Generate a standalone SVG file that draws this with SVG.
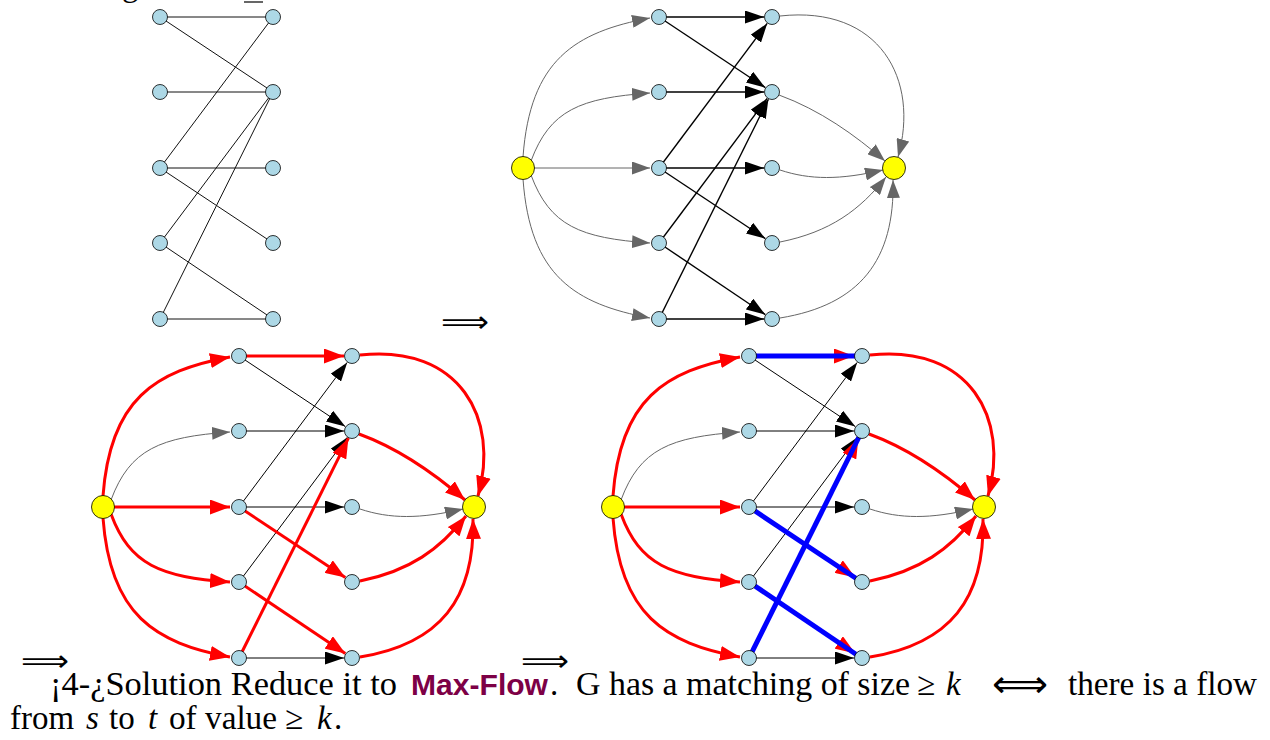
<svg xmlns="http://www.w3.org/2000/svg" width="1270" height="740" viewBox="0 0 1270 740">
<style>
.n{fill:#add8e6;stroke:#000;stroke-width:0.8}
.y{fill:#ffff00;stroke:#000;stroke-width:0.8}
.e{stroke:#111;stroke-width:1;fill:none}
.eb{stroke:#000;stroke-width:1.4;fill:none;marker-end:url(#aB)}
.ek{stroke:#000;stroke-width:1;fill:none;marker-end:url(#aB)}
.eg{stroke:#666;stroke-width:1;fill:none;marker-end:url(#aG)}
.er{stroke:#f00;stroke-width:3;fill:none;marker-end:url(#aR)}
.bl{stroke:#00f;stroke-width:5;fill:none}
.tx{font-family:"Liberation Serif","Times New Roman",serif;font-size:33px;fill:#000}
.it{font-style:italic}
.ar{font-family:"DejaVu Sans",sans-serif;font-size:30px;fill:#000}
.ar2{font-family:"DejaVu Sans",sans-serif;font-size:38px;fill:#000}
.mf{font-family:"Liberation Sans",Arial,sans-serif;font-weight:bold;font-size:30px;fill:#7d0046}
</style>
<defs>
<marker id="aB" viewBox="0 0 19 13" markerUnits="userSpaceOnUse" markerWidth="19" markerHeight="13" refX="19" refY="6.5" orient="auto"><path d="M0,0 L19,6.5 L0,13 z" fill="#000"/></marker>
<marker id="aG" viewBox="0 0 18 13" markerUnits="userSpaceOnUse" markerWidth="18" markerHeight="13" refX="18" refY="6.5" orient="auto"><path d="M0,0 L18,6.5 L0,13 z" fill="#666"/></marker>
<marker id="aR" viewBox="0 0 20 15" markerUnits="userSpaceOnUse" markerWidth="20" markerHeight="15" refX="20" refY="7.5" orient="auto"><path d="M0,0 L20,7.5 L0,15 z" fill="#f00"/></marker>
</defs>
<rect width="1270" height="740" fill="#fff"/>

<text class="tx" x="122" y="-4">g</text>
<line x1="244" y1="2" x2="263" y2="2" stroke="#000" stroke-width="1.2"/>

<!-- Top-left bipartite graph -->
<g id="tl-connectors">
<line class="e" x1="160" y1="17" x2="273" y2="17"/>
<line class="e" x1="160" y1="17" x2="273" y2="92"/>
<line class="e" x1="160" y1="92" x2="273" y2="92"/>
<line class="e" x1="160" y1="168" x2="273" y2="17"/>
<line class="e" x1="160" y1="168" x2="273" y2="168"/>
<line class="e" x1="160" y1="168" x2="273" y2="243"/>
<line class="e" x1="160" y1="243" x2="273" y2="92"/>
<line class="e" x1="160" y1="243" x2="273" y2="319"/>
<line class="e" x1="160" y1="319" x2="273" y2="92"/>
<line class="e" x1="160" y1="319" x2="273" y2="319"/>
</g>
<g id="tl-L1"><circle class="n" cx="160" cy="17" r="7.5"/></g>
<g id="tl-L2"><circle class="n" cx="160" cy="92" r="7.5"/></g>
<g id="tl-L3"><circle class="n" cx="160" cy="168" r="7.5"/></g>
<g id="tl-L4"><circle class="n" cx="160" cy="243" r="7.5"/></g>
<g id="tl-L5"><circle class="n" cx="160" cy="319" r="7.5"/></g>
<g id="tl-R1"><circle class="n" cx="273" cy="17" r="7.5"/></g>
<g id="tl-R2"><circle class="n" cx="273" cy="92" r="7.5"/></g>
<g id="tl-R3"><circle class="n" cx="273" cy="168" r="7.5"/></g>
<g id="tl-R4"><circle class="n" cx="273" cy="243" r="7.5"/></g>
<g id="tl-R5"><circle class="n" cx="273" cy="319" r="7.5"/></g>

<!-- Top-right flow network -->
<g id="tr-connectors">
<path class="eg" d="M523,157 C530,60 575,32 650,18"/>
<path class="eg" d="M531,161 C550,110 580,98 650,93"/>
<path class="eg" d="M534,168 L650,168"/>
<path class="eg" d="M531,175 C550,226 580,238 650,243"/>
<path class="eg" d="M523,179 C530,276 575,304 650,318"/>
<path class="eg" d="M780,16 C880,5 920,80 898,157"/>
<path class="eg" d="M779,95 C820,110 855,135 885,161"/>
<path class="eg" d="M780,170 C810,180 840,180 883,170"/>
<path class="eg" d="M780,242 C830,232 860,210 886,177"/>
<path class="eg" d="M780,318 C860,305 895,260 893,180"/>
<path class="eb" d="M659,17 L764,17"/>
<path class="eb" d="M659,17 L765.3,87.6"/>
<path class="eb" d="M659,92 L764,92"/>
<path class="eb" d="M659,168 L767.2,23.4"/>
<path class="eb" d="M659,168 L764,168"/>
<path class="eb" d="M659,168 L765.3,238.6"/>
<path class="eb" d="M659,243 L767.2,98.4"/>
<path class="eb" d="M659,243 L765.3,314.6"/>
<path class="eb" d="M659,319 L768.4,99.2"/>
<path class="eb" d="M659,319 L764,319"/>
</g>
<g id="tr-s"><circle class="y" cx="523" cy="168" r="11.5"/></g>
<g id="tr-t"><circle class="y" cx="894" cy="168" r="11.5"/></g>
<g id="tr-L1"><circle class="n" cx="659" cy="17" r="7.5"/></g>
<g id="tr-L2"><circle class="n" cx="659" cy="92" r="7.5"/></g>
<g id="tr-L3"><circle class="n" cx="659" cy="168" r="7.5"/></g>
<g id="tr-L4"><circle class="n" cx="659" cy="243" r="7.5"/></g>
<g id="tr-L5"><circle class="n" cx="659" cy="319" r="7.5"/></g>
<g id="tr-R1"><circle class="n" cx="772" cy="17" r="7.5"/></g>
<g id="tr-R2"><circle class="n" cx="772" cy="92" r="7.5"/></g>
<g id="tr-R3"><circle class="n" cx="772" cy="168" r="7.5"/></g>
<g id="tr-R4"><circle class="n" cx="772" cy="243" r="7.5"/></g>
<g id="tr-R5"><circle class="n" cx="772" cy="319" r="7.5"/></g>

<!-- Bottom-left: flow -->
<g transform="translate(-420,339)">
<g id="bl-connectors">
<path class="eg" d="M531,161 C550,110 580,98 650,93"/>
<path class="eg" d="M780,170 C810,180 840,180 883,170"/>
<path class="ek" d="M659,17 L765.3,87.6"/>
<path class="ek" d="M659,92 L764,92"/>
<path class="ek" d="M659,168 L767.2,23.4"/>
<path class="ek" d="M659,168 L764,168"/>
<path class="ek" d="M659,243 L767.2,98.4"/>
<path class="ek" d="M659,319 L764,319"/>
<path class="er" d="M523,157 C530,60 575,32 650,18"/>
<path class="er" d="M534,168 L650,168"/>
<path class="er" d="M531,175 C550,226 580,238 650,243"/>
<path class="er" d="M523,179 C530,276 575,304 650,318"/>
<path class="er" d="M659,17 L764,17"/>
<path class="er" d="M659,319 L768.4,99.2"/>
<path class="er" d="M659,168 L765.3,238.6"/>
<path class="er" d="M659,243 L765.3,314.6"/>
<path class="er" d="M780,16 C880,5 920,80 898,157"/>
<path class="er" d="M779,95 C820,110 855,135 885,161"/>
<path class="er" d="M780,242 C830,232 860,210 886,177"/>
<path class="er" d="M780,318 C860,305 895,260 893,180"/>
</g>
<g id="bl-s"><circle class="y" cx="523" cy="168" r="11.5"/></g>
<g id="bl-t"><circle class="y" cx="894" cy="168" r="11.5"/></g>
<g id="bl-L1"><circle class="n" cx="659" cy="17" r="7.5"/></g>
<g id="bl-L2"><circle class="n" cx="659" cy="92" r="7.5"/></g>
<g id="bl-L3"><circle class="n" cx="659" cy="168" r="7.5"/></g>
<g id="bl-L4"><circle class="n" cx="659" cy="243" r="7.5"/></g>
<g id="bl-L5"><circle class="n" cx="659" cy="319" r="7.5"/></g>
<g id="bl-R1"><circle class="n" cx="772" cy="17" r="7.5"/></g>
<g id="bl-R2"><circle class="n" cx="772" cy="92" r="7.5"/></g>
<g id="bl-R3"><circle class="n" cx="772" cy="168" r="7.5"/></g>
<g id="bl-R4"><circle class="n" cx="772" cy="243" r="7.5"/></g>
<g id="bl-R5"><circle class="n" cx="772" cy="319" r="7.5"/></g>
</g>

<!-- Bottom-right: flow with matching -->
<g transform="translate(90,339)">
<g id="br-connectors">
<path class="eg" d="M531,161 C550,110 580,98 650,93"/>
<path class="eg" d="M780,170 C810,180 840,180 883,170"/>
<path class="ek" d="M659,17 L765.3,87.6"/>
<path class="ek" d="M659,92 L764,92"/>
<path class="ek" d="M659,168 L767.2,23.4"/>
<path class="ek" d="M659,168 L764,168"/>
<path class="ek" d="M659,243 L767.2,98.4"/>
<path class="ek" d="M659,319 L764,319"/>
<path class="er" d="M523,157 C530,60 575,32 650,18"/>
<path class="er" d="M534,168 L650,168"/>
<path class="er" d="M531,175 C550,226 580,238 650,243"/>
<path class="er" d="M523,179 C530,276 575,304 650,318"/>
<path class="er" d="M659,17 L764,17"/>
<path class="er" d="M659,319 L768.4,99.2"/>
<path class="er" d="M659,168 L765.3,238.6"/>
<path class="er" d="M659,243 L765.3,314.6"/>
<path class="er" d="M780,16 C880,5 920,80 898,157"/>
<path class="er" d="M779,95 C820,110 855,135 885,161"/>
<path class="er" d="M780,242 C830,232 860,210 886,177"/>
<path class="er" d="M780,318 C860,305 895,260 893,180"/>
<line class="bl" x1="659" y1="17" x2="770" y2="17"/>
<line class="bl" x1="659" y1="319" x2="771" y2="94"/>
<line class="bl" x1="659" y1="168" x2="770" y2="242"/>
<line class="bl" x1="659" y1="243" x2="770" y2="318"/>
</g>
<g id="br-s"><circle class="y" cx="523" cy="168" r="11.5"/></g>
<g id="br-t"><circle class="y" cx="894" cy="168" r="11.5"/></g>
<g id="br-L1"><circle class="n" cx="659" cy="17" r="7.5"/></g>
<g id="br-L2"><circle class="n" cx="659" cy="92" r="7.5"/></g>
<g id="br-L3"><circle class="n" cx="659" cy="168" r="7.5"/></g>
<g id="br-L4"><circle class="n" cx="659" cy="243" r="7.5"/></g>
<g id="br-L5"><circle class="n" cx="659" cy="319" r="7.5"/></g>
<g id="br-R1"><circle class="n" cx="772" cy="17" r="7.5"/></g>
<g id="br-R2"><circle class="n" cx="772" cy="92" r="7.5"/></g>
<g id="br-R3"><circle class="n" cx="772" cy="168" r="7.5"/></g>
<g id="br-R4"><circle class="n" cx="772" cy="243" r="7.5"/></g>
<g id="br-R5"><circle class="n" cx="772" cy="319" r="7.5"/></g>
</g>

<!-- implication arrows -->
<text class="ar" x="441" y="332" textLength="48" lengthAdjust="spacingAndGlyphs">⟹</text>
<text class="ar" x="21" y="671" textLength="48" lengthAdjust="spacingAndGlyphs">⟹</text>
<text class="ar" x="521" y="671" textLength="48" lengthAdjust="spacingAndGlyphs">⟹</text>

<!-- caption -->
<text class="tx" x="50" y="695" textLength="347" lengthAdjust="spacingAndGlyphs">¡4-¿Solution Reduce it to</text>
<text class="mf" x="411" y="695" textLength="137" lengthAdjust="spacingAndGlyphs">Max-Flow</text>
<text class="tx" x="550" y="695">.</text>
<text class="tx" x="576" y="695" textLength="334" lengthAdjust="spacingAndGlyphs">G has a matching of size</text>
<text class="tx" x="917" y="695">≥</text>
<text class="tx it" x="946" y="695">k</text>
<text class="ar2" x="992" y="697" textLength="56" lengthAdjust="spacingAndGlyphs">⟺</text>
<text class="tx" x="1068" y="695" textLength="189" lengthAdjust="spacingAndGlyphs">there is a flow</text>
<text class="tx" x="10" y="729" textLength="64" lengthAdjust="spacingAndGlyphs">from</text>
<text class="tx it" x="86" y="729">s</text>
<text class="tx" x="109" y="729">to</text>
<text class="tx it" x="148" y="729">t</text>
<text class="tx" x="169" y="729" textLength="108" lengthAdjust="spacingAndGlyphs">of value</text>
<text class="tx" x="285" y="729">≥</text>
<text class="tx it" x="317" y="729">k</text>
<text class="tx" x="334" y="729">.</text>
</svg>
